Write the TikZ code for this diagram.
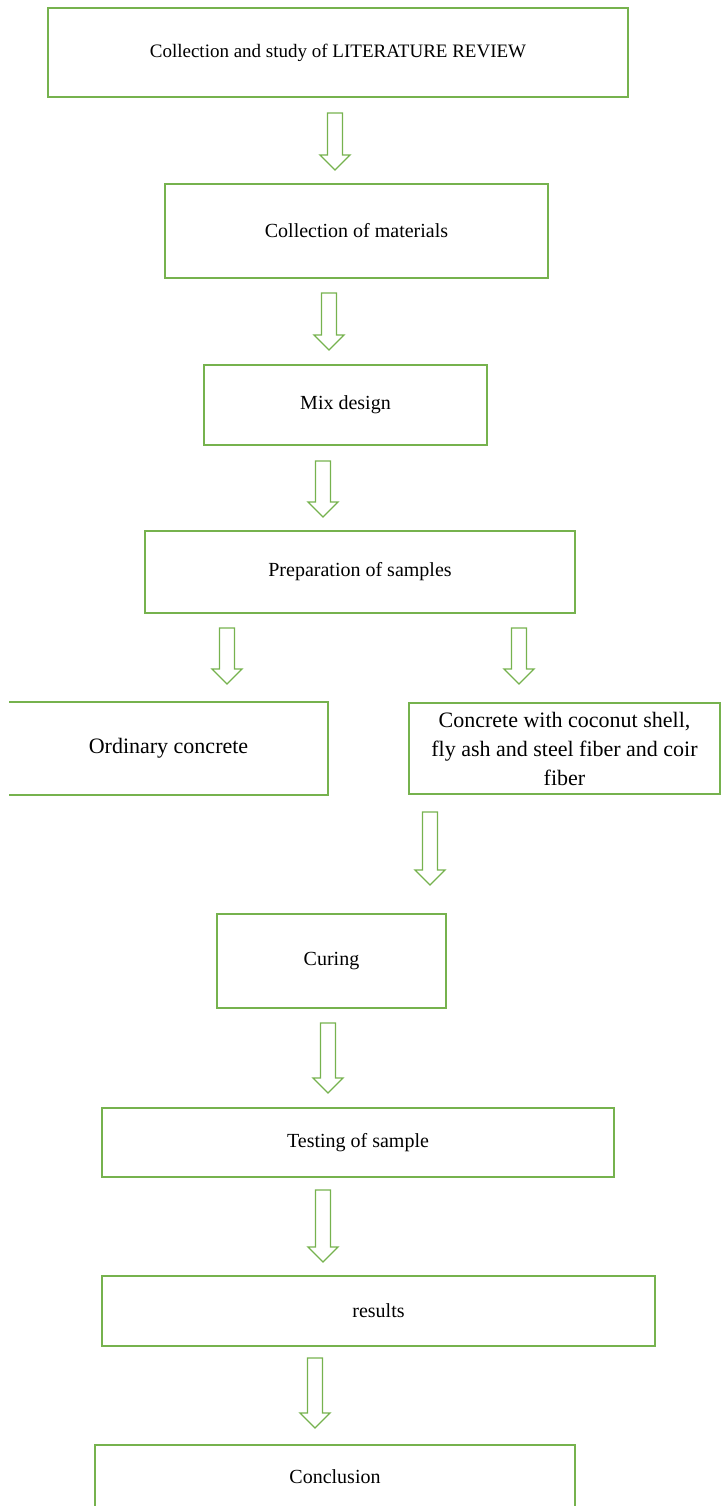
\documentclass[tikz,border=0pt]{standalone}
\usepackage{fontspec}
\setmainfont{Liberation Serif}
\definecolor{stepgreen}{RGB}{118,178,78}

\begin{document}
\begin{tikzpicture}[x=1pt,y=-1pt,
    stage/.style={draw=stepgreen,line width=1.6pt,inner sep=0pt,align=center,
      font=\fontsize{20}{26}\selectfont},
    boxline/.style={draw=stepgreen,line width=1.6pt},
    hollow/.style={draw=stepgreen,line width=1.3pt,line join=miter}]
\useasboundingbox (0,0) rectangle (722,1506);
\node [stage,minimum width=580,minimum height=89,font=\fontsize{19}{24}\selectfont] (lit) at (338,52.5) {Collection and study of LITERATURE REVIEW};
\node [stage,minimum width=383,minimum height=94] (mat) at (356.5,231) {Collection of materials};
\node [stage,minimum width=283,minimum height=80] (mix) at (345.5,405) {Mix design};
\node [stage,minimum width=430,minimum height=82] (prep) at (360,572) {Preparation of samples};
\node [stage,draw=none,minimum width=317,minimum height=91,font=\fontsize{22}{29}\selectfont] (ord) at (168.5,748.5) {Ordinary concrete};
\draw [boxline] (ord.north west) -- (ord.north east) -- (ord.south east) -- (ord.south west);
\node [stage,minimum width=311,minimum height=91,font=\fontsize{22}{29}\selectfont] (coc) at (564.5,748.5) {Concrete with coconut shell,\\ fly ash and steel fiber and coir\\ fiber};
\node [stage,minimum width=229,minimum height=94] (cur) at (331.5,961) {Curing};
\node [stage,minimum width=512,minimum height=69] (test) at (358,1142.5) {Testing of sample};
\node [stage,minimum width=553,minimum height=70] (res) at (378.5,1311) {results};
\node [stage,minimum width=480,minimum height=64] (conc) at (335,1477) {Conclusion};
\foreach \x/\a/\b in {335/113/170, 329/293/350, 323/461/517, 227/628/684, 519/628/684,
    430/812/885, 328/1023/1093, 323/1190/1262, 315/1358/1428}
  \draw [hollow] (\x-7.5,\a) -- (\x+7.5,\a) -- (\x+7.5,\b-15) -- (\x+15,\b-15) -- (\x,\b)
    -- (\x-15,\b-15) -- (\x-7.5,\b-15) -- cycle;
\end{tikzpicture}
\end{document}
